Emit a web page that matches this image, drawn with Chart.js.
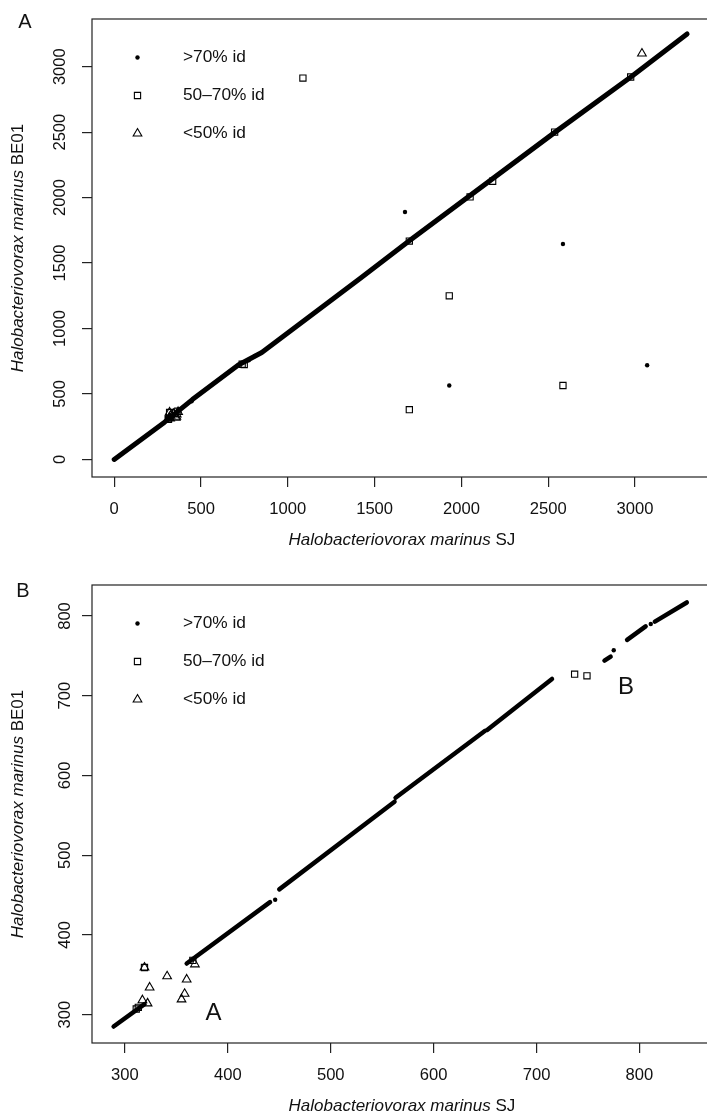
<!DOCTYPE html>
<html>
<head>
<meta charset="utf-8">
<script src="https://cdn.jsdelivr.net/npm/chart.js@4.4.1/dist/chart.umd.min.js"></script>
<style>
  html, body { margin: 0; padding: 0; background: #fff; width: 707px; height: 1115px; overflow: hidden; }
  canvas { position: absolute; left: 0; }
  #chartA { top: 0; }
  #chartB { top: 557px; }
</style>
</head>
<body>
<canvas id="chartA" width="718" height="557"></canvas>
<canvas id="chartB" width="718" height="558"></canvas>
<script>
// Gene positions, Halobacteriovorax marinus SJ (x) vs BE01 (y)

// >70% id, isolated dots
const dotX = [1675, 2585, 1930, 3070, 446, 775, 811];
const dotY = [1890, 1645, 565, 720, 444, 757, 790];

// 50-70% id
const squareX = [311, 313, 319, 366, 737, 749, 1700, 1087, 1930, 1700, 2585, 2050, 2180, 2537, 2975];
const squareY = [307, 309, 359, 368, 727, 725, 1668, 2913, 1250, 380, 565, 2005, 2125, 2500, 2921];

// <50% id
const triX = [319, 341, 324, 360, 358, 355, 317, 322, 368, 3040];
const triY = [359, 348, 334, 344, 326, 319, 318, 314, 363, 3100];

// whole genome diagonal (panel A), read at its bends
const diagX = [0, 290, 450, 715, 850, 1420, 1700, 2540, 2980, 3300];
const diagY = [0, 285, 457, 721, 817, 1385, 1670, 2500, 2925, 3250];

// zoomed diagonal (panel B), null = break in the run
const zoomX = [289, 319, null, 360, 441, null, 450, 562, null, 563, 650, null, 652, 715, null, 766, 772, null, 788, 806, null, 815, 846];
const zoomY = [285, 313, null, 364, 441, null, 457, 567, null, 572, 656, null, 657, 721, null, 744, 749, null, 770, 787, null, 793, 817];

const ticksA = [0, 500, 1000, 1500, 2000, 2500, 3000];
const ticksB = [300, 400, 500, 600, 700, 800];

const legendLabels = ['>70% id', '50\u201370% id', '<50% id'];
const noteLabels = ['A', 'B'];
const noteX = [386, 787];
const noteY = [302, 711];

const FONT = "'Liberation Sans', Arial, Helvetica, sans-serif";
const INK = '#111';

function pts(xs, ys, p) {
    const out = [];
    xs.forEach((x, i) => {
        const y = ys[i];
        if (x === null) { out.push({ x: null, y: null }); return; }
        if (p && (x < p.xMin || x > p.xMax || y < p.yMin || y > p.yMax)) return;
        out.push({ x: x, y: y });
    });
    return out;
}

// draws title with italic species name and upright strain
function mixedText(ctx, italic, plain, cx, cy, rotate) {
    ctx.save();
    ctx.translate(cx, cy);
    if (rotate) ctx.rotate(-Math.PI / 2);
    ctx.textBaseline = 'middle';
    ctx.textAlign = 'left';
    ctx.font = 'italic 17px ' + FONT;
    const w1 = ctx.measureText(italic).width;
    ctx.font = '17px ' + FONT;
    const w2 = ctx.measureText(plain).width;
    let x = -(w1 + w2) / 2;
    ctx.font = 'italic 17px ' + FONT;
    ctx.fillText(italic, x, 0);
    ctx.font = '17px ' + FONT;
    ctx.fillText(plain, x + w1, 0);
    ctx.restore();
}

function drawSymbol(ctx, ds, x, y) {
    ctx.save();
    ctx.fillStyle = ds.backgroundColor;
    ctx.strokeStyle = ds.borderColor;
    ctx.lineWidth = ds.borderWidth;
    Chart.helpers.drawPoint(ctx, {
        pointStyle: ds.pointStyle, radius: ds.pointRadius, rotation: 0, borderWidth: ds.borderWidth
    }, x, y);
    ctx.restore();
}

const decorations = {
    id: 'decorations',
    afterDraw(chart, args, o) {
        const { ctx, chartArea: a } = chart;
        ctx.save();
        // plot frame
        ctx.strokeStyle = '#222';
        ctx.lineWidth = 1.2;
        ctx.strokeRect(a.left, a.top, a.right - a.left, a.bottom - a.top);

        ctx.fillStyle = INK;
        mixedText(ctx, 'Halobacteriovorax marinus', ' SJ', (a.left + a.right) / 2, a.bottom + 63, false);
        mixedText(ctx, 'Halobacteriovorax marinus', ' BE01', 18.5, (a.top + a.bottom) / 2, true);

        // panel letter
        ctx.font = '20px ' + FONT;
        ctx.textAlign = 'center';
        ctx.textBaseline = 'middle';
        ctx.fillText(o.letter, o.letterX, o.letterY);

        // legend, top left of plot
        const sets = chart.data.datasets.filter(d => d.legendRow !== undefined);
        sets.forEach(ds => {
            const y = a.top + 38.5 + ds.legendRow * 38;
            drawSymbol(ctx, ds, 137.5, y);
            ctx.fillStyle = INK;
            ctx.font = '17.3px ' + FONT;
            ctx.textAlign = 'left';
            ctx.textBaseline = 'middle';
            ctx.fillText(legendLabels[ds.legendRow], 183, y);
        });

        // region labels in the zoom
        if (o.notes) {
            const sx = chart.scales.x, sy = chart.scales.y;
            ctx.font = '24px ' + FONT;
            ctx.textAlign = 'center';
            ctx.textBaseline = 'middle';
            noteLabels.forEach((t, i) => {
                ctx.fillText(t, sx.getPixelForValue(noteX[i]), sy.getPixelForValue(noteY[i]));
            });
        }
        ctx.restore();
    }
};

function makePanel(p) {
    const lim = p.clipPts ? p : null;
    const tickFont = { family: FONT, size: 16.6 };
    const axisGrid = { drawOnChartArea: false, drawTicks: true, tickLength: 10, color: '#222', lineWidth: 1.2 };

    return new Chart(document.getElementById(p.canvas), {
        type: 'scatter',
        data: {
            datasets: [
                {
                    data: pts(p.lineX, p.lineY),
                    showLine: true, spanGaps: false,
                    borderColor: '#000', borderWidth: p.lineW, borderCapStyle: 'round', borderJoinStyle: 'round',
                    pointRadius: 0, order: 3
                },
                {
                    legendRow: 0,
                    data: pts(dotX, dotY, lim),
                    pointStyle: 'circle', pointRadius: 2.2,
                    backgroundColor: '#000', borderColor: '#000', borderWidth: 0, order: 2
                },
                {
                    legendRow: 1,
                    data: pts(squareX, squareY, lim),
                    pointStyle: 'rect', pointRadius: 4.4,
                    backgroundColor: 'rgba(0,0,0,0)', borderColor: '#000', borderWidth: 1.1, order: 1
                },
                {
                    legendRow: 2,
                    data: pts(triX, triY, lim),
                    pointStyle: 'triangle', pointRadius: 5,
                    backgroundColor: 'rgba(0,0,0,0)', borderColor: '#000', borderWidth: 1.1, order: 0
                }
            ]
        },
        options: {
            responsive: false,
            animation: false,
            events: [],
            layout: { padding: { top: p.top, left: 0, right: 0, bottom: 0 } },
            plugins: {
                legend: { display: false },
                tooltip: { enabled: false },
                decorations: { letter: p.letter, letterX: p.letterX, letterY: p.letterY, notes: p.notes }
            },
            scales: {
                x: {
                    type: 'linear', min: p.xMin, max: p.xMax,
                    afterBuildTicks: s => { s.ticks = p.ticks.map(v => ({ value: v })); },
                    afterFit: s => { s.height = p.xAxisH; s.paddingLeft = 0; s.paddingRight = 0; },
                    grid: axisGrid,
                    border: { display: false },
                    ticks: {
                        font: tickFont, color: INK, padding: 12, autoSkip: false,
                        minRotation: 0, maxRotation: 0,
                        callback: v => String(v)
                    }
                },
                y: {
                    type: 'linear', min: p.yMin, max: p.yMax,
                    afterBuildTicks: s => { s.ticks = p.ticks.map(v => ({ value: v })); },
                    afterFit: s => { s.width = 92; s.paddingTop = 0; s.paddingBottom = 0; },
                    grid: axisGrid,
                    border: { display: false },
                    ticks: {
                        font: tickFont, color: INK, padding: 3, autoSkip: false,
                        minRotation: 90, maxRotation: 90, crossAlign: 'center',
                        callback: v => String(v)
                    }
                }
            }
        },
        plugins: [decorations]
    });
}

makePanel({
    canvas: 'chartA', letter: 'A', letterX: 25, letterY: 22,
    xMin: -128, xMax: 3443, yMin: -134, yMax: 3364,
    ticks: ticksA, top: 19, xAxisH: 80,
    lineX: diagX, lineY: diagY, lineW: 5, notes: false, clipPts: false
});

makePanel({
    canvas: 'chartB', letter: 'B', letterX: 23, letterY: 34.7,
    xMin: 268, xMax: 870.4, yMin: 264.3, yMax: 838.9,
    ticks: ticksB, top: 28, xAxisH: 72,
    lineX: zoomX, lineY: zoomY, lineW: 4.5, notes: true, clipPts: true
});
</script>
</body>
</html>
